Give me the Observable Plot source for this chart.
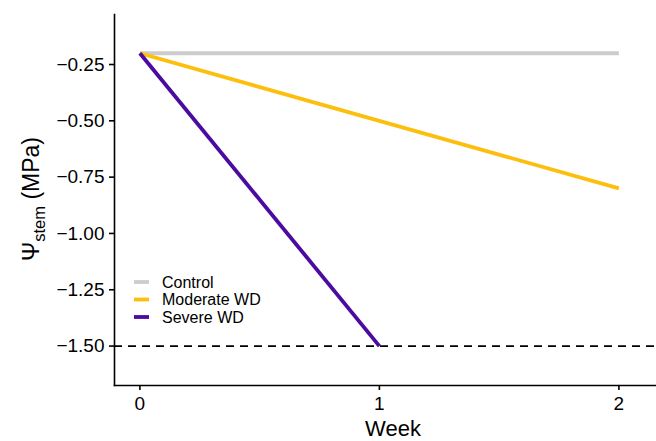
<!DOCTYPE html>
<html>
<head>
<meta charset="utf-8">
<script src="https://cdn.jsdelivr.net/npm/d3@7"></script>
<script src="https://cdn.jsdelivr.net/npm/@observablehq/plot@0.6"></script>
<style>
  html, body { margin: 0; padding: 0; background: #fff; }
  svg { display: block; }
</style>
</head>
<body>
<div id="chart"></div>
<script>
// ---- data ----
const treatments = ["Control", "Moderate WD", "Severe WD"];
const colors = ["#cccccc", "#fcbf0e", "#4b0aa0"];
const controlWeeks = [0, 2];
const controlValues = [-0.2, -0.2];
const moderateWeeks = [0, 2];
const moderateValues = [-0.2, -0.8];
const severeWeeks = [0, 1];
const severeValues = [-0.2, -1.5];
const threshold = [-1.5];
const xTicks = [0, 1, 2];
const yTicks = [-0.25, -0.5, -0.75, -1.0, -1.25, -1.5];

const rows = [];
[[controlWeeks, controlValues], [moderateWeeks, moderateValues], [severeWeeks, severeValues]]
  .forEach(([w, v], i) => w.forEach((wk, j) => rows.push({treatment: treatments[i], week: wk, psi: v[j]})));

const W = 656, H = 441;
const font = "'Liberation Sans', Arial, Helvetica, sans-serif";

const plot = Plot.plot({
  width: W,
  height: H,
  marginLeft: 114,
  marginRight: 0,
  marginTop: 14,
  marginBottom: 56,
  style: {fontFamily: font, fontSize: "19px", color: "#000", background: "#fff"},
  x: {domain: [-0.106, 2.157], label: null},
  y: {domain: [-1.675, -0.028], label: null},
  color: {domain: treatments, range: colors},
  marks: [
    Plot.ruleY(threshold, {stroke: "#000", strokeWidth: 1.6, strokeDasharray: "8,6"}),
    Plot.line(rows, {x: "week", y: "psi", z: "treatment", stroke: "treatment", strokeWidth: 3.8, strokeLinecap: "butt"}),
    Plot.frame({anchor: "left", stroke: "#000", strokeWidth: 1.6}),
    Plot.frame({anchor: "bottom", stroke: "#000", strokeWidth: 1.6}),
    Plot.axisY({ticks: yTicks, tickFormat: d3.format(".2f"), tickSize: 5, tickPadding: 5, strokeWidth: 1.6, fontSize: 19, fill: "#000", label: null}),
    Plot.axisX({ticks: xTicks, tickFormat: d3.format("d"), tickSize: 5, tickPadding: 6, strokeWidth: 1.6, fontSize: 19, fill: "#000", label: null})
  ]
});

document.getElementById("chart").appendChild(plot);

const svg = d3.select(plot);
// axis titles
svg.append("text")
  .attr("x", 393).attr("y", 436)
  .attr("text-anchor", "middle")
  .attr("font-family", font).attr("font-size", 22).attr("fill", "#000")
  .text("Week");

const yt = svg.append("text")
  .attr("transform", "translate(39,199) rotate(-90)")
  .attr("text-anchor", "middle")
  .attr("font-family", font).attr("font-size", 23).attr("fill", "#000");
yt.append("tspan").text("Ψ");
yt.append("tspan").attr("font-size", 16.5).attr("dy", 6).text("stem");
yt.append("tspan").attr("dy", -6).text(" (MPa)");

// legend
const lg = svg.append("g");
treatments.forEach((t, i) => {
  const y = 282 + i * 17.5;
  lg.append("line").attr("x1", 134).attr("x2", 149).attr("y1", y).attr("y2", y)
    .attr("stroke", colors[i]).attr("stroke-width", 3.8);
  lg.append("text").attr("x", 162).attr("y", y).attr("dy", "0.36em")
    .attr("text-anchor", "start")
    .attr("font-family", font).attr("font-size", 16).attr("fill", "#000").text(t);
});
</script>
</body>
</html>
